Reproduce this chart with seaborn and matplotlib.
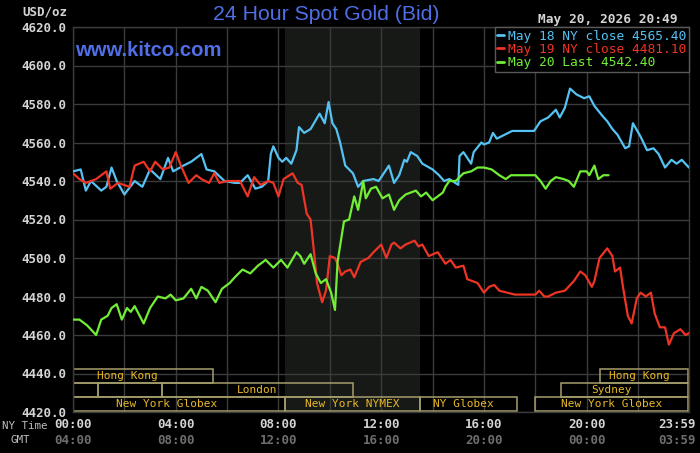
import seaborn as sns
import matplotlib.pyplot as plt
import matplotlib.transforms as mtransforms
from matplotlib.patches import Rectangle

# --- data (hours after 00:00 NY time, USD/oz) ---
hours_may18 = [0.0, 0.3, 0.5, 0.7, 1.1, 1.3, 1.5, 1.7, 2.0, 2.4, 2.7, 3.0, 3.4, 3.7, 3.9,
               4.3, 4.6, 5.0, 5.2, 5.5, 5.9, 6.3, 6.5, 6.8, 7.1, 7.35, 7.6, 7.7, 7.8, 8.0,
               8.15, 8.3, 8.5, 8.7, 8.8, 9.0, 9.25, 9.6, 9.8, 9.95, 10.1, 10.25, 10.4, 10.6,
               10.9, 11.1, 11.3, 11.7, 11.9, 12.3, 12.5, 12.7, 12.9, 13.0, 13.15, 13.4, 13.6,
               14.0, 14.25, 14.45, 14.65, 15.0, 15.05, 15.2, 15.35, 15.5, 15.6, 15.9, 16.0,
               16.2, 16.35, 16.5, 16.8, 17.1, 17.95, 18.2, 18.5, 18.8, 18.95, 19.15, 19.35,
               19.6, 19.9, 20.1, 20.3, 20.6, 20.8, 21.0, 21.2, 21.5, 21.65, 21.8, 22.1, 22.35,
               22.6, 22.8, 23.05, 23.3, 23.5, 23.7, 23.98]
gold_may18 = [4545, 4546, 4535, 4540, 4535, 4537, 4547, 4540, 4533, 4540, 4537, 4546, 4541, 4552, 4545,
              4548, 4550, 4554, 4546, 4545, 4540, 4539, 4539, 4543, 4536, 4537, 4540, 4554, 4558, 4552,
              4550, 4552, 4549, 4556, 4568, 4565, 4567, 4575, 4570, 4581, 4570, 4567, 4560, 4548,
              4544, 4537, 4540, 4541, 4540, 4548, 4539, 4543, 4551, 4550, 4555, 4553, 4549,
              4546, 4543, 4540, 4541, 4538, 4553, 4555, 4552, 4549, 4555, 4560, 4559,
              4560, 4565, 4562, 4564, 4566, 4566, 4571, 4573, 4577, 4573, 4578, 4588,
              4585, 4583, 4584, 4579, 4574, 4571, 4567, 4564, 4557, 4558, 4570, 4563, 4556,
              4557, 4554, 4547, 4551, 4549, 4551, 4547]

hours_may19 = [0.0, 0.25, 0.5, 0.9, 1.3, 1.45, 1.75, 2.2, 2.4, 2.75, 3.0, 3.2, 3.5, 3.75, 4.0,
               4.2, 4.5, 4.8, 5.0, 5.3, 5.5, 5.7, 6.0, 6.5, 6.8, 7.05, 7.3, 7.6, 7.8, 8.0,
               8.2, 8.55, 8.75, 8.9, 9.1, 9.25, 9.4, 9.5, 9.7, 9.85, 10.0, 10.2, 10.3, 10.45,
               10.6, 10.8, 10.95, 11.2, 11.5, 11.7, 12.0, 12.2, 12.4, 12.5, 12.75, 12.95, 13.3,
               13.45, 13.6, 13.85, 14.2, 14.5, 14.7, 14.9, 15.2, 15.35, 15.75, 16.0, 16.2, 16.4,
               16.6, 16.9, 17.2, 18.0, 18.15, 18.35, 18.5, 18.8, 19.15, 19.5, 19.75, 19.95,
               20.2, 20.3, 20.5, 20.8, 21.0, 21.1, 21.3, 21.4, 21.6, 21.75, 21.95, 22.1, 22.3,
               22.5, 22.65, 22.85, 23.05, 23.2, 23.4, 23.65, 23.85, 23.98]
gold_may19 = [4544, 4541, 4539, 4541, 4545, 4536, 4539, 4537, 4548, 4550, 4545, 4550, 4546, 4547, 4555,
              4548, 4539, 4543, 4541, 4539, 4544, 4539, 4540, 4540, 4532, 4542, 4538, 4540, 4539, 4532,
              4541, 4544, 4539, 4538, 4523, 4520, 4501, 4487, 4477, 4483, 4501, 4500, 4497, 4491,
              4493, 4494, 4490, 4498, 4500, 4503, 4507, 4500, 4507, 4508, 4505, 4507, 4509,
              4506, 4507, 4501, 4503, 4497, 4499, 4495, 4496, 4489, 4487, 4482, 4485, 4486,
              4483, 4482, 4481, 4481, 4483, 4480, 4480, 4482, 4483, 4488, 4493, 4491,
              4485, 4488, 4500, 4505, 4501, 4493, 4495, 4486, 4470, 4466, 4479, 4482, 4480,
              4482, 4471, 4464, 4464, 4455, 4461, 4463, 4460, 4461]

hours_may20 = [0.0, 0.25, 0.55, 0.9, 1.1, 1.35, 1.5, 1.7, 1.9, 2.1, 2.25, 2.4, 2.75, 3.0, 3.3,
               3.6, 3.8, 4.0, 4.3, 4.6, 4.8, 5.0, 5.25, 5.55, 5.8, 6.1, 6.3, 6.6, 6.9, 7.2,
               7.5, 7.8, 8.1, 8.35, 8.7, 8.85, 9.0, 9.25, 9.45, 9.65, 9.85, 10.05, 10.2, 10.3,
               10.55, 10.75, 10.95, 11.1, 11.3, 11.4, 11.6, 11.8, 12.05, 12.3, 12.5, 12.7, 12.95,
               13.35, 13.55, 13.75, 14.0, 14.4, 14.5, 14.65, 14.9, 15.2, 15.5, 15.75, 16.0, 16.3,
               16.6, 16.85, 17.05, 18.0, 18.2, 18.4, 18.6, 18.8, 19.1, 19.3, 19.5, 19.75, 20.0,
               20.1, 20.3, 20.45, 20.65, 20.85]
gold_may20 = [4468, 4468, 4465, 4460, 4468, 4470, 4474, 4476, 4468, 4474, 4472, 4475, 4466, 4474, 4480,
              4479, 4481, 4478, 4479, 4484, 4479, 4485, 4483, 4477, 4484, 4487, 4490, 4494, 4492, 4496,
              4499, 4495, 4499, 4495, 4503, 4501, 4497, 4502, 4492, 4487, 4489, 4482, 4473, 4498,
              4519, 4520, 4532, 4525, 4540, 4531, 4536, 4537, 4531, 4533, 4525, 4530, 4533,
              4535, 4532, 4534, 4530, 4534, 4537, 4540, 4540, 4544, 4545, 4547, 4547, 4546,
              4543, 4541, 4543, 4543, 4540, 4536, 4540, 4542, 4541, 4540, 4537, 4545, 4545,
              4543, 4548, 4541, 4543, 4543]

series_labels = ["May 18 NY close 4565.40", "May 19 NY close 4481.10", "May 20 Last 4542.40"]
series_colors = ["#55c2f2", "#ee3424", "#72ee36"]

# trading sessions: name, start hour, end hour, row (0 = top), label hour
session_names = ["Hong Kong", "Hong Kong", "", "", "London", "Sydney",
                 "New York Globex", "New York NYMEX", "NY Globex", "New York Globex"]
session_start = [0.0, 20.5, 0.0, 0.96, 3.47, 19.0, 0.0, 8.25, 13.5, 18.0]
session_end = [5.45, 23.95, 0.96, 3.47, 10.9, 23.95, 8.25, 13.5, 17.3, 23.95]
session_row = [0, 0, 1, 1, 1, 1, 2, 2, 2, 2]
session_text_at = [2.1, 22.05, 0, 0, 7.17, 20.96, 3.66, 10.87, 15.2, 20.98]

y_ticks = list(range(4420, 4621, 20))
tick_hours = [0, 4, 8, 12, 16, 20, 23.983]
ny_labels = ["00:00", "04:00", "08:00", "12:00", "16:00", "20:00", "23:59"]
gmt_labels = ["04:00", "08:00", "12:00", "16:00", "20:00", "00:00", "03:59"]

sns.set_theme(style="dark")
plt.rcParams.update({
    "figure.facecolor": "black",
    "axes.facecolor": "black",
    "savefig.facecolor": "black",
})
plt.rcParams["font.family"] = ["DejaVu Sans Mono", "DejaVu Sans"]

fig = plt.figure(figsize=(7, 4.53), dpi=100)
ax = fig.add_axes([73 / 700, 1 - 412 / 453, 616 / 700, 385 / 453])

# NYMEX pit hours shading
ax.axvspan(8.25, 13.5, color="#161916", lw=0, zorder=0)

for h, v, c, lab in zip([hours_may18, hours_may19, hours_may20],
                        [gold_may18, gold_may19, gold_may20],
                        series_colors, series_labels):
    sns.lineplot(x=h, y=v, ax=ax, color=c, lw=1.6, label=lab, zorder=3)

ax.set_xlim(0, 23.983)
ax.set_ylim(4420, 4620)
ax.set_xticks(range(0, 24, 2))
ax.set_yticks(y_ticks)
ax.set_yticklabels([f"{v:.1f}" for v in y_ticks])
ax.set_xlabel("")
ax.set_ylabel("")
ax.tick_params(axis="x", length=0, labelbottom=False)
ax.tick_params(axis="y", length=0, pad=4.5, labelsize=9, labelcolor="#d4d4d4")
for lbl in ax.get_yticklabels():
    lbl.set_fontweight("bold")
ax.grid(True, color="#3b3b3b", lw=1.0)
ax.set_axisbelow(True)
for s in ax.spines.values():
    s.set_color("#3b3b3b")
    s.set_linewidth(1.0)

# session boxes
row_top = [4442.2, 4435.1, 4427.7]
row_bottom = [4435.1, 4427.7, 4420.3]
for name, s0, s1, r, tx in zip(session_names, session_start, session_end, session_row, session_text_at):
    ax.add_patch(Rectangle((s0, row_bottom[r]), s1 - s0, row_top[r] - row_bottom[r],
                           fill=False, edgecolor="#a59e6c", lw=1.1, zorder=2))
    if name:
        ax.text(tx, (row_top[r] + row_bottom[r]) / 2, name, ha="center", va="center",
                fontsize=8, color="#e8b828", zorder=4)

leg = ax.legend(loc="upper right", borderaxespad=0, frameon=True, fancybox=False,
                facecolor="black", edgecolor="#5a5a5a", framealpha=1,
                labelcolor="linecolor", prop={"family": "DejaVu Sans Mono", "size": 9.3},
                handlelength=0.5, handletextpad=0.35, labelspacing=0.02, borderpad=0.2)
leg.get_frame().set_linewidth(1.0)
for line in leg.get_lines():
    line.set_linewidth(2)

# time axis labels (NY time and GMT)
trans = mtransforms.blended_transform_factory(ax.transData, ax.transAxes)
last = mtransforms.offset_copy(trans, fig=fig, x=-12, y=0, units="dots")
for i, (h, ny, gmt) in enumerate(zip(tick_hours, ny_labels, gmt_labels)):
    tr = last if i == len(tick_hours) - 1 else trans
    ax.text(h, -13 / 385, ny, transform=tr, ha="center", va="center",
            fontsize=9, fontweight="bold", color="#d4d4d4", clip_on=False)
    ax.text(h, -28 / 385, gmt, transform=tr, ha="center", va="center",
            fontsize=9, fontweight="bold", color="#6e6e6e", clip_on=False)

fig.text(47 / 700, 1 - 426 / 453, "NY Time", ha="right", va="center", fontsize=7.8, color="#bdbdbd")
fig.text(20 / 700, 1 - 440 / 453, "GMT", ha="center", va="center", fontsize=7.8, color="#bdbdbd")
fig.text(67 / 700, 1 - 12 / 453, "USD/oz", ha="right", va="center", fontsize=9,
         fontweight="bold", color="#d4d4d4")
fig.text(677 / 700, 1 - 20 / 453, "May 20, 2026 20:49", ha="right", va="center", fontsize=9.3,
         fontweight="bold", color="#d4d4d4")
fig.text(326 / 700, 1 - 15 / 453, "24 Hour Spot Gold (Bid)", ha="center", va="center",
         fontsize=15.3, family="Liberation Sans", color="#506ee6")
fig.text(75 / 700, 1 - 51 / 453, "www.kitco.com", ha="left", va="center", fontsize=14.6,
         family="Liberation Sans", fontweight="bold", color="#506ee6")

fig.savefig("out.png", dpi=100)
